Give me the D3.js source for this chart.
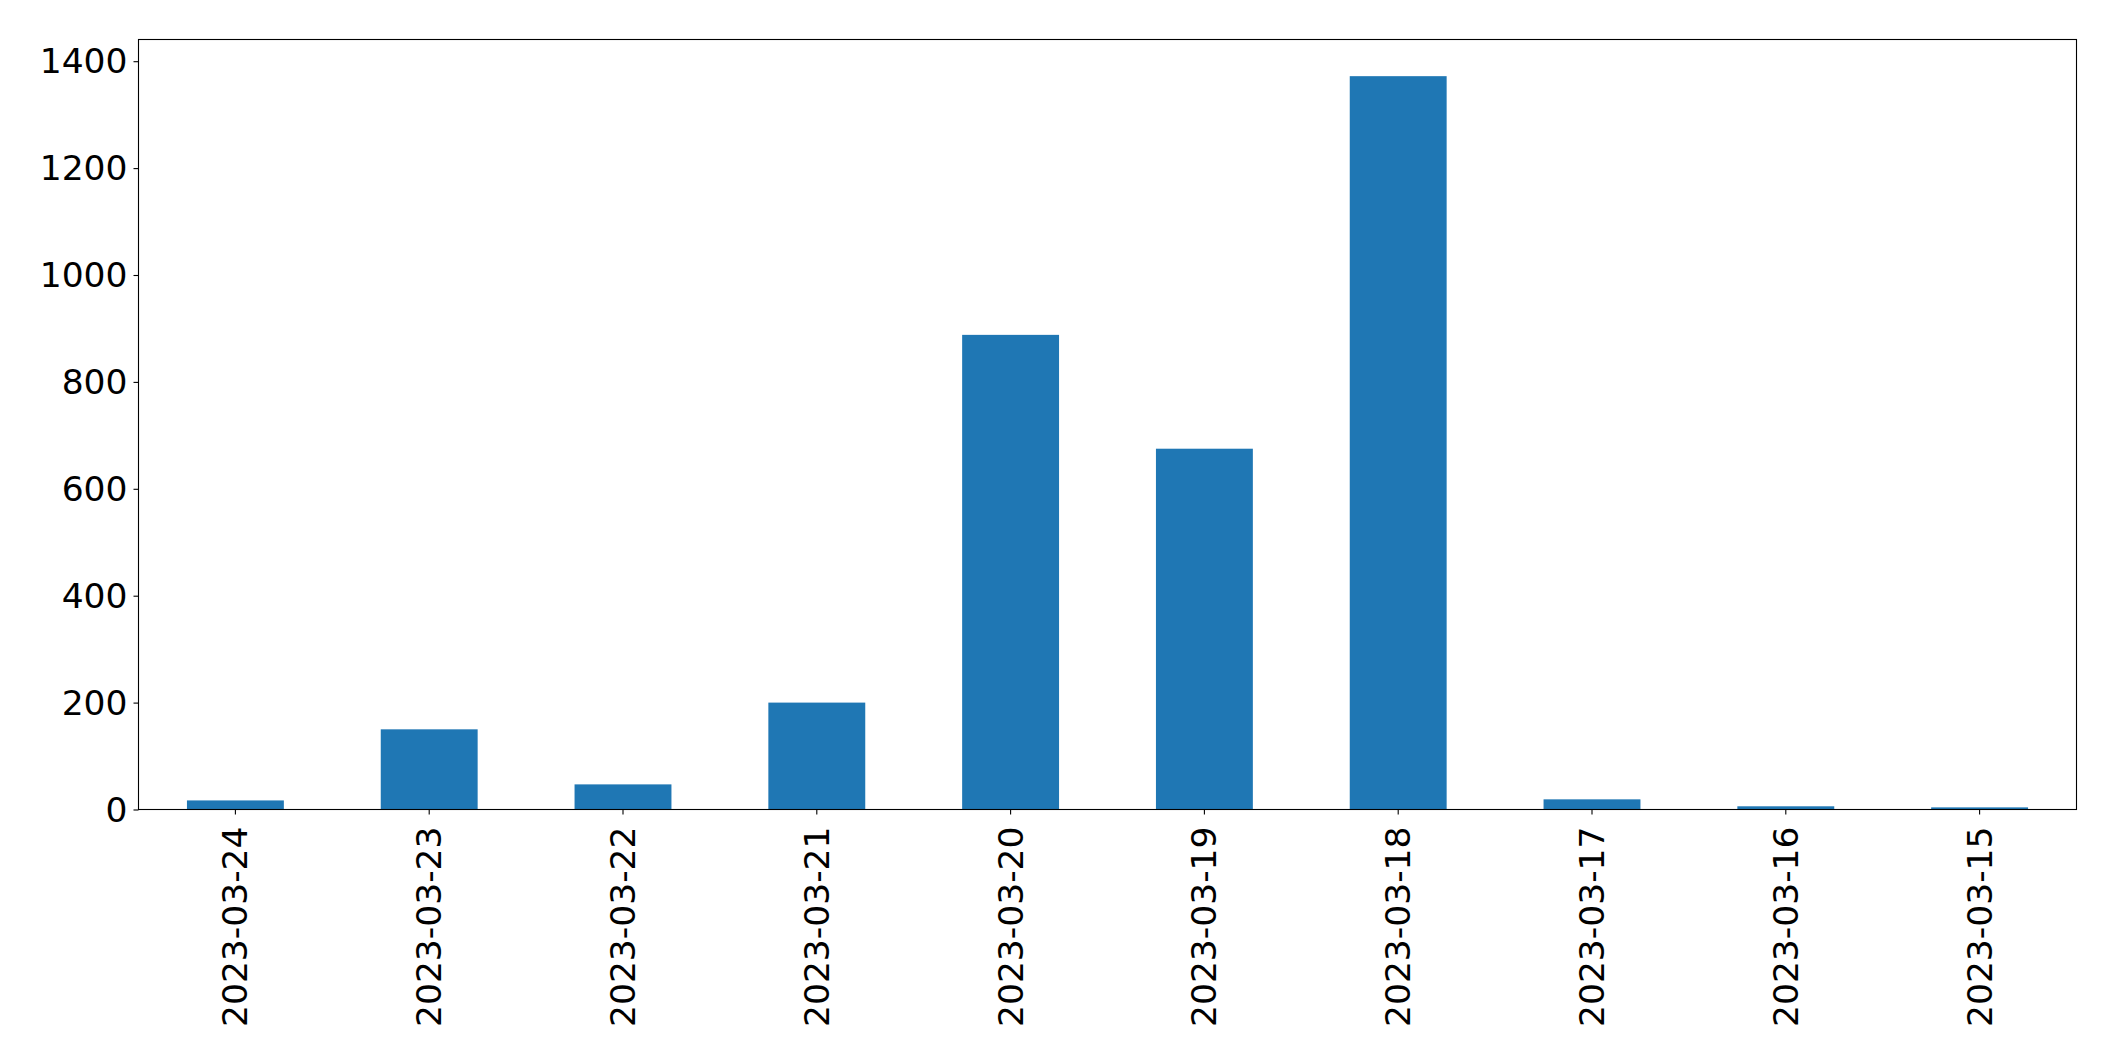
<!DOCTYPE html>
<html>
<head>
<meta charset="utf-8">
<script src="https://cdn.jsdelivr.net/npm/d3@7"></script>
<style>
  html, body { margin: 0; padding: 0; background: #fff; }
  svg { display: block; }
  text { font-family: "DejaVu Sans", sans-serif; fill: #000; }
</style>
</head>
<body>
<svg id="chart" width="2115" height="1061"></svg>
<script>
const categories = ["2023-03-24","2023-03-23","2023-03-22","2023-03-21","2023-03-20","2023-03-19","2023-03-18","2023-03-17","2023-03-16","2023-03-15"];
const values = [17, 150, 47, 200, 888, 675, 1372, 19, 6, 4];
const yTicks = [0, 200, 400, 600, 800, 1000, 1200, 1400];

const W = 2115, H = 1061;
const m = { left: 138.5, right: 2076.5, top: 39.5, bottom: 809.5 };
const svg = d3.select("#chart");

const x = d3.scaleBand().domain(categories).range([m.left, m.right]).paddingInner(0.5).paddingOuter(0.25);
const y = d3.scaleLinear().domain([0, d3.max(values) * 1.05]).range([m.bottom, m.top]);

svg.append("g").selectAll("rect").data(categories).join("rect")
  .attr("x", d => x(d))
  .attr("width", x.bandwidth())
  .attr("y", (d, i) => y(values[i]))
  .attr("height", (d, i) => y(0) - y(values[i]))
  .attr("fill", "#1f77b4");

// frame
svg.append("rect")
  .attr("x", m.left).attr("y", m.top)
  .attr("width", m.right - m.left).attr("height", m.bottom - m.top)
  .attr("fill", "none").attr("stroke", "#000").attr("stroke-width", 1.1);

const FS = "34.5px";

// y axis
const yAxis = d3.axisLeft(y).tickValues(yTicks).tickSize(5).tickPadding(6).tickFormat(d3.format("d"));
const gy = svg.append("g").attr("transform", `translate(${m.left},0)`).call(yAxis);
gy.select(".domain").remove();
gy.selectAll(".tick line").attr("stroke", "#000").attr("stroke-width", 1.1);
gy.selectAll(".tick text").style("font-size", FS).style("font-family", "DejaVu Sans").attr("fill", "#000").attr("dy", "0.34em");

// x axis
const xAxis = d3.axisBottom(x).tickSize(5).tickPadding(0);
const gx = svg.append("g").attr("transform", `translate(0,${m.bottom})`).call(xAxis);
gx.select(".domain").remove();
gx.selectAll(".tick line").attr("stroke", "#000").attr("stroke-width", 1.1);
gx.selectAll(".tick text")
  .style("font-size", FS).style("font-family", "DejaVu Sans").attr("fill", "#000")
  .attr("text-anchor", "end")
  .attr("x", 0).attr("y", 0).attr("dy", "0.35em")
  .attr("transform", "translate(0,17) rotate(-90)");
</script>
</body>
</html>
